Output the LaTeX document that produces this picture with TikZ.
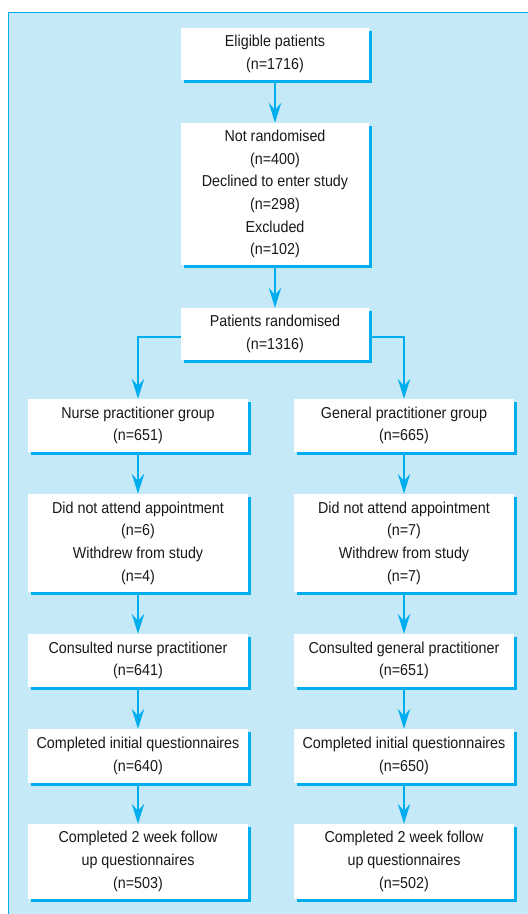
\documentclass[tikz,border=0pt]{standalone}
\usepackage{fontspec}
\setmainfont{Liberation Sans}[FakeStretch=0.905]
\usetikzlibrary{arrows.meta,shadows}
\definecolor{panel}{HTML}{C6E9F8}
\definecolor{cyanline}{HTML}{00AEEF}
\begin{document}
\begin{tikzpicture}[x=1pt,y=-1pt,
  box/.style={fill=white, align=center, inner sep=0pt,
    font=\fontsize{15.8}{22.7}\selectfont, text=black!90,
    general shadow={fill=cyanline, shadow xshift=3pt, shadow yshift=-3pt}},
  topbox/.style={box, minimum width=188pt},
  colbox/.style={box, minimum width=220pt},
  conn/.style={draw=cyanline, line width=2pt, -{Stealth[length=20pt,width=12.5pt,inset=7pt]}}]
\useasboundingbox (0,0) rectangle (528,914);
\fill[panel] (8,12.5) rectangle (528,914);
\draw[cyanline, line width=1.5pt] (8.5,914) -- (8.5,12.5) -- (528,12.5);

\node[topbox, minimum height=52pt] (b1) at (275,54) {Eligible patients\\(n=1716)};
\node[topbox, minimum height=142pt] (b2) at (275,194) {Not randomised\\(n=400)\\Declined to enter study\\(n=298)\\Excluded\\(n=102)};
\node[topbox, minimum height=52pt] (b3) at (275,334) {Patients randomised\\(n=1316)};

\node[colbox, minimum height=53pt] (l1) at (138,425.5) {Nurse practitioner group\\(n=651)};
\node[colbox, minimum height=98pt] (l2) at (138,543) {Did not attend appointment\\(n=6)\\Withdrew from study\\(n=4)};
\node[colbox, minimum height=53pt] (l3) at (138,660.5) {Consulted nurse practitioner\\(n=641)};
\node[colbox, minimum height=54pt] (l4) at (138,756) {Completed initial questionnaires\\(n=640)};
\node[colbox, minimum height=75pt] (l5) at (138,861.5) {Completed 2 week follow\\up questionnaires\\(n=503)};

\node[colbox, minimum height=53pt] (r1) at (404,425.5) {General practitioner group\\(n=665)};
\node[colbox, minimum height=98pt] (r2) at (404,543) {Did not attend appointment\\(n=7)\\Withdrew from study\\(n=7)};
\node[colbox, minimum height=53pt] (r3) at (404,660.5) {Consulted general practitioner\\(n=651)};
\node[colbox, minimum height=54pt] (r4) at (404,756) {Completed initial questionnaires\\(n=650)};
\node[colbox, minimum height=75pt] (r5) at (404,861.5) {Completed 2 week follow\\up questionnaires\\(n=502)};

\draw[conn] (b1) -- (b2);
\draw[conn] (b2) -- (b3);
\draw[conn] ([yshift=-3pt]b3.west) -| (l1.north);
\draw[conn] ([yshift=-3pt]b3.east) -| (r1.north);
\draw[conn] (l1) -- (l2);
\draw[conn] (l2) -- (l3);
\draw[conn] (l3) -- (l4);
\draw[conn] (l4) -- (l5);
\draw[conn] (r1) -- (r2);
\draw[conn] (r2) -- (r3);
\draw[conn] (r3) -- (r4);
\draw[conn] (r4) -- (r5);
\end{tikzpicture}
\end{document}
